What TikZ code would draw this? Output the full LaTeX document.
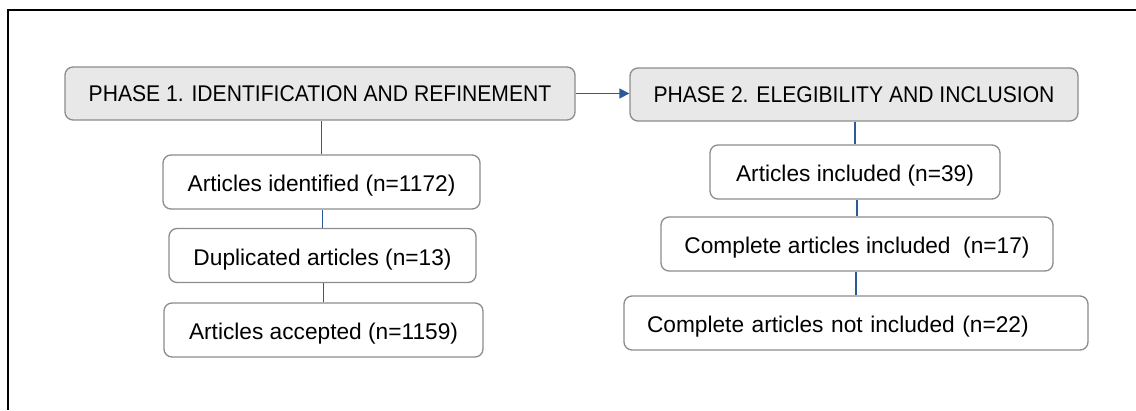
\documentclass[tikz,border=0pt]{standalone}
\usepackage{fontspec}
\setmainfont{Liberation Sans}
\newfontfamily\phasefont[FakeStretch=0.93]{Liberation Sans}
\usetikzlibrary{arrows.meta}
\definecolor{boxgray}{HTML}{E8E8E8}
\definecolor{edgegray}{HTML}{8C8C8C}
\definecolor{linkblue}{HTML}{2A5A98}
\tikzset{
  phase/.style={draw=edgegray, fill=boxgray, rounded corners=8pt, line width=1.3pt,
    font=\phasefont\fontsize{22.7}{27}\selectfont, minimum height=53pt, inner sep=0pt,
    text height=19pt, text depth=3pt},
  item/.style={draw=edgegray, fill=white, rounded corners=8pt, line width=1.3pt,
    font=\fontsize{22.7}{27}\selectfont, minimum height=54pt, inner sep=0pt,
    text height=22pt, text depth=3pt},
  link/.style={linkblue, line width=1.3pt}
}
\begin{document}
\begin{tikzpicture}[x=1pt,y=-1pt] % one unit per pixel of the reference
    \useasboundingbox (0,0) rectangle (1136,410);

    % Frame on the left and top
    \draw[line width=1.5pt] (8,410) -- (8,10) -- (1136,10);

    % Phase headers
    \node[phase, minimum width=510pt] (p1) at (320,93.5) {PHASE 1. IDENTIFICATION AND REFINEMENT};
    \node[phase, minimum width=448pt] (p2) at (854,94.5) {PHASE 2. ELEGIBILITY AND INCLUSION};

    % Phase 1 steps
    \node[item, minimum width=317pt] (a1) at (321.5,182) {Articles identified (n=1172)};
    \node[item, minimum width=307pt] (a2) at (322.5,255.5) {Duplicated articles (n=13)};
    \node[item, minimum width=319pt] (a3) at (323.5,330) {Articles accepted (n=1159)};

    % Phase 2 steps
    \node[item, minimum width=290pt] (b1) at (855,172) {Articles included (n=39)};
    \node[item, minimum width=392pt] (b2) at (857,244) {Complete articles included\ \ (n=17)};
    \node[item, minimum width=464pt, text width=418pt, inner xsep=23pt, align=left] (b3) at (856,323) {Complete articles not included (n=22)};

    % Connectors
    \draw[link, -{Triangle[length=10pt,width=10pt]}] (p1.east) -- (p1.east -| p2.west);
    \draw[link] (a1.north) -- (a1.north |- p1.south);
    \draw[link] (a2.north) -- (a2.north |- a1.south);
    \draw[link] (a3.north) -- (a3.north |- a2.south);
    \draw[link] (b1.north) -- (b1.north |- p2.south);
    \draw[link] (b2.north) -- (b2.north |- b1.south);
    \draw[link] (b3.north) -- (b3.north |- b2.south);

\end{tikzpicture}
\end{document}
